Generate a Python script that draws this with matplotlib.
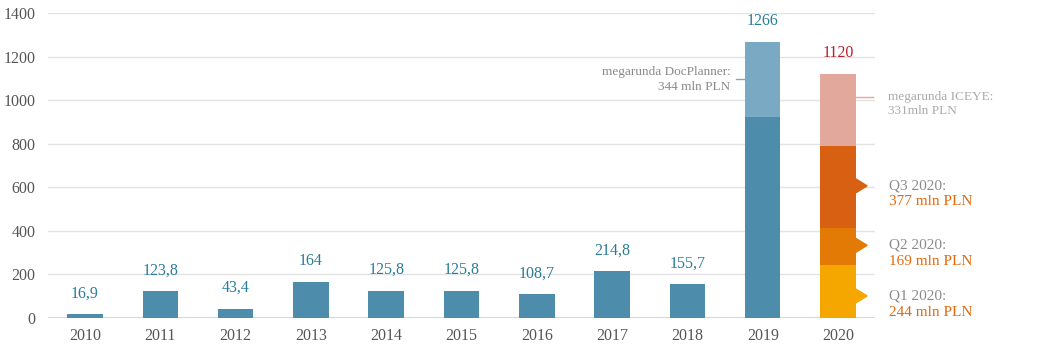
import matplotlib
matplotlib.use("Agg")
import matplotlib.pyplot as plt
from matplotlib.patches import Polygon

years = ["2010", "2011", "2012", "2013", "2014", "2015", "2016", "2017", "2018", "2019", "2020"]
values = [16.9, 123.8, 43.4, 164, 125.8, 125.8, 108.7, 214.8, 155.7, 1266, 1120]
value_labels = ["16,9", "123,8", "43,4", "164", "125,8", "125,8", "108,7", "214,8", "155,7", "1266", "1120"]
docplanner = 344
q_values = [244, 169, 377]
q_names = ["Q1 2020:", "Q2 2020:", "Q3 2020:"]
q_texts = ["244 mln PLN", "169 mln PLN", "377 mln PLN"]
iceye = 331

plt.rcParams["font.family"] = ["Liberation Serif", "DejaVu Serif"]
BLUE, LBLUE = "#4d8dab", "#7aa9c3"
TEAL = "#2a7d99"
Q_COLORS = ["#f5a700", "#e37a06", "#d86012"]
PINK = "#e2a89b"
ORANGE_TXT = "#e06a10"
GRAY = "#8a8a8a"

fig = plt.figure(figsize=(10.46, 3.51), dpi=100)
ax = fig.add_axes([48 / 1046, 1 - 318 / 351, (875 - 48) / 1046, (318 - 13) / 351])
x = list(range(len(years)))
w = 0.47

for i in range(9):
    ax.bar(i, values[i], w, color=BLUE, zorder=3)
# 2019 stacked
base19 = values[9] - docplanner
ax.bar(9, base19, w, color=BLUE, zorder=3)
ax.bar(9, docplanner, w, bottom=base19, color=LBLUE, zorder=3)
# 2020 stacked
bottom = 0
mids = []
for v, c in zip(q_values, Q_COLORS):
    ax.bar(10, v, w, bottom=bottom, color=c, zorder=3)
    mids.append(bottom + v / 2)
    bottom += v
ax.bar(10, iceye, w, bottom=bottom, color=PINK, zorder=3)

for i, (v, lab) in enumerate(zip(values, value_labels)):
    col = "#b5202e" if i == 10 else TEAL
    ax.annotate(lab, (i, v), xytext=(0, 15), textcoords="offset points",
                ha="center", va="center", fontsize=11.5, color=col)

# quarter flags and labels
x0 = 10 + w / 2
for k, (m, c) in enumerate(zip(mids, Q_COLORS)):
    y0 = m - 21 if k == 0 else m + 5
    tri = Polygon([(x0, y0 + 32), (x0 + 0.15, y0), (x0, y0 - 32)], closed=True,
                  color=c, zorder=4, clip_on=False)
    ax.add_patch(tri)
    ax.text(10.68, y0, q_names[k], fontsize=11, color=GRAY, va="center", ha="left")
    ax.text(10.68, y0 - 74, q_texts[k], fontsize=11, color=ORANGE_TXT, va="center", ha="left")

# DocPlanner annotation
ax.plot([8.645, 9 - w / 2], [1097, 1097], color=LBLUE, lw=1, zorder=2)
ax.text(8.57, 1127, "megarunda DocPlanner:", fontsize=9.5, color=GRAY, ha="right", va="center")
ax.text(8.57, 1062, "344 mln PLN", fontsize=9.5, color=GRAY, ha="right", va="center")

# ICEYE annotation
ax.plot([x0, 10.46], [1016, 1016], color=PINK, lw=1, zorder=2, clip_on=False)
ax.text(10.66, 1016, "megarunda ICEYE:", fontsize=9.5, color="#aaaaaa", ha="left", va="center")
ax.text(10.66, 952, "331mln PLN", fontsize=9.5, color="#aaaaaa", ha="left", va="center")

ax.set_xlim(-0.49, 10.49)
ax.set_ylim(0, 1400)
ax.set_yticks(range(0, 1401, 200))
ax.set_xticks(x)
ax.set_xticklabels(years)
ax.grid(axis="y", color="#e3e3e3", lw=1, zorder=0)
ax.axhline(0, color="#d0d0d0", lw=1.2, zorder=2)
for s in ax.spines.values():
    s.set_visible(False)
ax.tick_params(length=0, labelsize=11.5, colors="#555555")
ax.tick_params(axis="y", pad=9)
ax.tick_params(axis="x", pad=7)

fig.savefig("out.png", dpi=100)
